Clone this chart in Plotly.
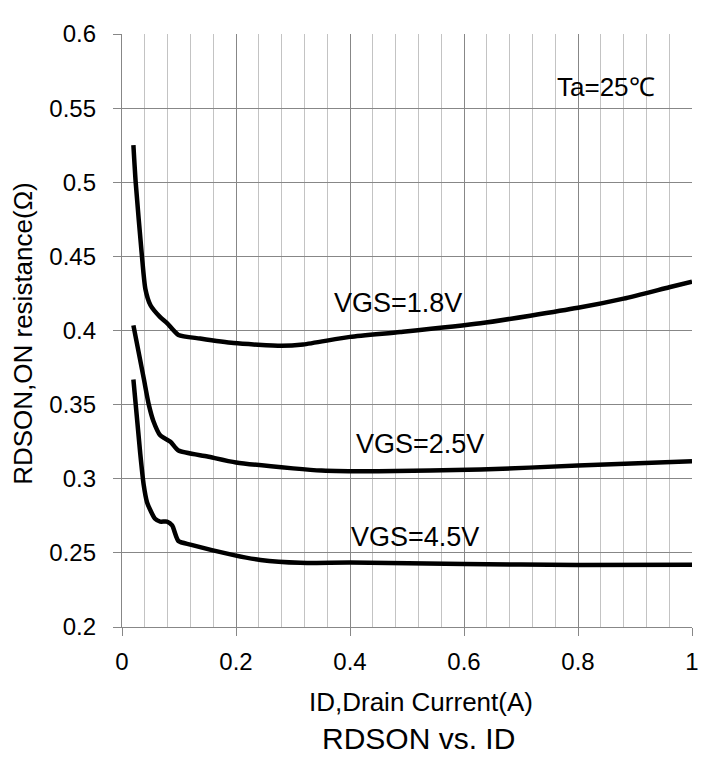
import plotly.graph_objects as go

# VGS = 1.8 V
x_18 = [0.02, 0.024, 0.035, 0.041, 0.05, 0.067, 0.079, 0.099, 0.137, 0.196, 0.28, 0.318, 0.4, 0.488, 0.629, 0.8, 0.88, 0.96, 1.0]
y_18 = [0.525, 0.50, 0.45, 0.428, 0.417, 0.409, 0.405, 0.397, 0.3946, 0.3915, 0.3897, 0.3906, 0.3957, 0.3990, 0.4049, 0.4153, 0.4215, 0.4292, 0.433]

# VGS = 2.5 V
x_25 = [0.02, 0.038, 0.047, 0.055, 0.067, 0.085, 0.099, 0.15, 0.2, 0.3, 0.35, 0.45, 0.629, 0.8, 1.0]
y_25 = [0.4035, 0.368, 0.350, 0.339, 0.3293, 0.3249, 0.319, 0.315, 0.311, 0.307, 0.3055, 0.305, 0.3062, 0.3089, 0.3118]

# VGS = 4.5 V
x_45 = [0.02, 0.032, 0.038, 0.044, 0.058, 0.067, 0.079, 0.088, 0.099, 0.12, 0.196, 0.243, 0.313, 0.4, 0.6, 0.8, 1.0]
y_45 = [0.367, 0.317, 0.296, 0.284, 0.273, 0.2711, 0.2711, 0.2685, 0.258, 0.2556, 0.2485, 0.2452, 0.2433, 0.2435, 0.2425, 0.2418, 0.242]

series = [("VGS=1.8V", x_18, y_18, 0.368, 0.4185),
          ("VGS=2.5V", x_25, y_25, 0.407, 0.3235),
          ("VGS=4.5V", x_45, y_45, 0.399, 0.2605)]

FONT = "Liberation Sans, Arial, sans-serif"
MAJOR = "#878787"
MINOR = "#c3c3c3"

fig = go.Figure()
for name, xs, ys, lx, ly in series:
    fig.add_trace(go.Scatter(x=xs, y=ys, mode="lines", name=name,
                             line=dict(color="black", width=4.5, shape="spline", smoothing=0.6),
                             showlegend=False))
    fig.add_annotation(x=lx, y=ly, text=name, showarrow=False, xanchor="left", yanchor="middle",
                       font=dict(family=FONT, size=27, color="black"))

fig.add_annotation(x=0.759, y=0.564, text="Ta=25℃", showarrow=False, xanchor="left", yanchor="middle",
                   font=dict(family=FONT, size=26, color="black"))

fig.add_annotation(xref="paper", yref="paper", x=0.525, y=-0.127, text="ID,Drain Current(A)", showarrow=False,
                   xanchor="center", yanchor="middle", font=dict(family=FONT, size=26, color="black"))
fig.add_annotation(xref="paper", yref="paper", x=0.52, y=-0.1875, text="RDSON vs. ID", showarrow=False,
                   xanchor="center", yanchor="middle", font=dict(family=FONT, size=30, color="black"))
fig.add_annotation(xref="paper", yref="paper", x=-0.173, y=0.495, text="RDSON,ON resistance(Ω)", showarrow=False,
                   textangle=-90, xanchor="center", yanchor="middle", font=dict(family=FONT, size=26, color="black"))

# page body adds an 8px margin, so the figure is sized 704x750
fig.update_layout(
    width=704, height=750,
    margin=dict(l=114, r=20, t=16, b=131),
    paper_bgcolor="white", plot_bgcolor="white",
    font=dict(family=FONT, size=24, color="black"),
    xaxis=dict(range=[0, 1], dtick=0.2, tick0=0, showgrid=True, gridcolor=MAJOR, gridwidth=1.3,
               minor=dict(dtick=0.04, showgrid=True, gridcolor=MINOR, gridwidth=1.3),
               ticks="outside", ticklen=8, tickcolor=MAJOR, tickwidth=1.3,
               showline=True, linecolor=MAJOR, linewidth=1.3, zeroline=False,
               ticklabelstandoff=5,
               tickfont=dict(family=FONT, size=24)),
    yaxis=dict(range=[0.2, 0.6], dtick=0.05, tick0=0.2, showgrid=True, gridcolor=MAJOR, gridwidth=1.3,
               ticks="outside", ticklen=8, tickcolor=MAJOR, tickwidth=1.3,
               showline=True, linecolor=MAJOR, linewidth=1.3, zeroline=False,
               ticklabelstandoff=12,
               tickfont=dict(family=FONT, size=24)),
)

fig.write_html("out.html")
